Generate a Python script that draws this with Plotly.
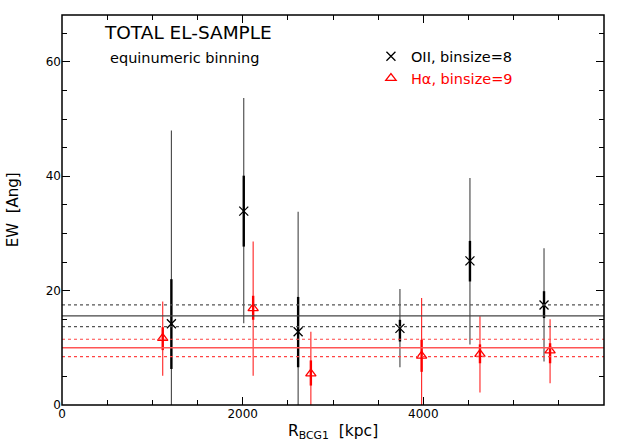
import plotly.graph_objects as go

# ---- data ----
oii_r = [1211, 2012, 2614, 3741, 4516, 5336]
oii_ew = [14.2, 33.9, 12.8, 13.4, 25.2, 17.5]
oii_err_hi = [48.0, 53.7, 33.8, 20.3, 39.7, 27.4]
oii_err_lo = [0.0, 14.3, 0.0, 6.6, 10.6, 7.6]
oii_bar_hi = [22.0, 40.1, 18.9, 14.9, 28.7, 19.9]
oii_bar_lo = [6.3, 27.7, 6.6, 11.1, 21.6, 15.2]

ha_r = [1115, 2116, 2755, 3981, 4627, 5403]
ha_ew = [11.7, 16.9, 5.5, 8.6, 8.9, 9.5]
ha_err_hi = [18.1, 28.6, 12.8, 18.7, 15.5, 15.0]
ha_err_lo = [5.1, 5.1, 0.0, 0.0, 2.2, 3.8]
ha_bar_hi = [13.6, 19.1, 7.8, 11.4, 10.6, 10.8]
ha_bar_lo = [9.6, 14.9, 3.4, 5.8, 7.3, 7.3]

oii_mean, oii_lo, oii_hi = 15.6, 13.7, 17.5
ha_mean, ha_lo, ha_hi = 10.0, 8.45, 11.5

x_ticks = [0, 2000, 4000, 6000]
y_ticks = [0, 20, 40, 60]


def segs(xs, lo, hi):
    X, Y = [], []
    for x, a, b in zip(xs, lo, hi):
        X += [x, x, None]
        Y += [a, b, None]
    return X, Y


FONT = "DejaVu Sans"
fig = go.Figure()

# horizontal reference lines
fig.add_hline(y=oii_mean, line=dict(color="#444444", width=1.3))
for v in (oii_lo, oii_hi):
    fig.add_hline(y=v, line=dict(color="#555555", width=1.2, dash="dot"))
fig.add_hline(y=ha_mean, line=dict(color="#ff5555", width=1.6))
for v in (ha_lo, ha_hi):
    fig.add_hline(y=v, line=dict(color="#ff4444", width=1.2, dash="dot"))

# error bars
for xs, lo, hi, col, w in [
    (oii_r, oii_err_lo, oii_err_hi, "#444444", 1.1),
    (oii_r, oii_bar_lo, oii_bar_hi, "black", 2.4),
    (ha_r, ha_err_lo, ha_err_hi, "#ff2222", 1.1),
    (ha_r, ha_bar_lo, ha_bar_hi, "red", 2.4),
]:
    X, Y = segs(xs, lo, hi)
    fig.add_trace(go.Scatter(x=X, y=Y, mode="lines", line=dict(color=col, width=w),
                             showlegend=False, hoverinfo="skip"))

fig.add_trace(go.Scatter(x=oii_r, y=oii_ew, mode="markers", name="OII, binsize=8",
                         marker=dict(symbol="x-thin", size=9, color="black",
                                     line=dict(color="black", width=1.3))))
fig.add_trace(go.Scatter(x=ha_r, y=ha_ew, mode="markers",
                         name="<span style='color:red'>H\u03b1, binsize=9</span>",
                         marker=dict(symbol="triangle-up-open", size=9, color="red",
                                     line=dict(color="red", width=1.3))))

tickfont = dict(family=FONT, size=12, color="black")
axis_common = dict(showline=False, ticks="inside", ticklen=8, tickwidth=1.2,
                   tickcolor="black", showgrid=False, zeroline=False)

xminor = dict(dtick=500, tick0=0, ticks="inside", ticklen=5, tickcolor="black",
              tickwidth=1, showgrid=False)
yminor = dict(dtick=5, tick0=0, ticks="inside", ticklen=5, tickcolor="black",
              tickwidth=1, showgrid=False)

fig.update_layout(
    xaxis=dict(range=[0, 6000], tickvals=x_ticks, ticktext=[str(v) for v in x_ticks],
               minor=xminor, tickfont=tickfont, **axis_common),
    yaxis=dict(range=[0, 68.2], tickvals=y_ticks, ticktext=[str(v) for v in y_ticks],
               minor=yminor, tickfont=tickfont, **axis_common),
    xaxis2=dict(range=[0, 6000], tickvals=x_ticks, showticklabels=False, overlaying="x",
                side="top", minor=xminor, **axis_common),
    yaxis2=dict(range=[0, 68.2], tickvals=y_ticks, showticklabels=False, overlaying="y",
                side="right", minor=yminor, **axis_common),
)
# invisible anchor trace so the mirrored axes render
fig.add_trace(go.Scatter(x=[None], y=[None], xaxis="x2", yaxis="y2", showlegend=False,
                         hoverinfo="skip"))

fig.add_shape(type="rect", xref="paper", yref="paper", x0=0, x1=1, y0=0, y1=1,
              line=dict(color="black", width=1.5), layer="above")

fig.update_layout(
    width=619, height=446,
    margin=dict(l=62, r=15, t=15, b=41),
    paper_bgcolor="white", plot_bgcolor="white",
    font=dict(family=FONT, color="black"),
    legend=dict(x=0.57, y=0.935, xanchor="left", yanchor="top",
                bgcolor="rgba(0,0,0,0)", font=dict(family=FONT, size=14.5, color="black"),
                itemwidth=30),
    annotations=[
        dict(text="TOTAL EL-SAMPLE", xref="paper", yref="paper", x=0.074, y=0.954,
             xanchor="left", yanchor="middle", showarrow=False,
             font=dict(family=FONT, size=18.5, color="black")),
        dict(text="equinumeric binning", xref="paper", yref="paper", x=0.085, y=0.89,
             xanchor="left", yanchor="middle", showarrow=False,
             font=dict(family=FONT, size=14.5, color="black")),
        dict(text="R<sub>BCG1</sub>  [kpc]", xref="paper", yref="paper", x=0.5, y=-0.07,
             xanchor="center", yanchor="middle", showarrow=False,
             font=dict(family=FONT, size=15.5, color="black")),
        dict(text="EW  [Ang]", xref="paper", yref="paper", x=-0.09, y=0.50,
             xanchor="center", yanchor="middle", showarrow=False, textangle=-90,
             font=dict(family=FONT, size=15, color="black")),
    ],
)

fig.write_html("out.html", post_script="document.body.style.margin='0';",
               config={"displayModeBar": False})
